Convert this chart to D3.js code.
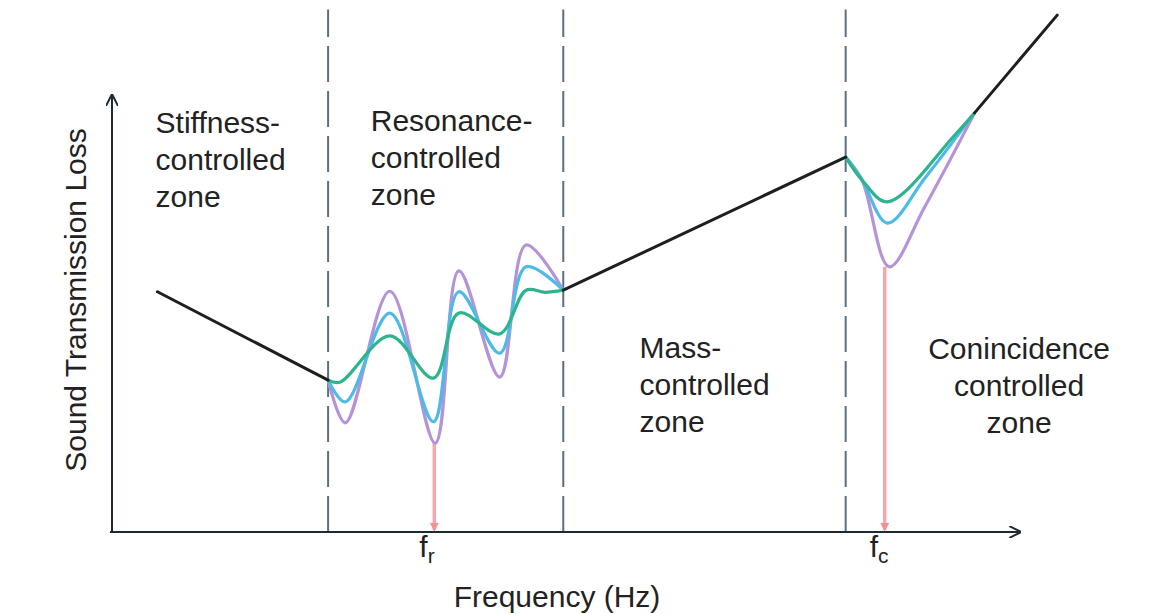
<!DOCTYPE html>
<html>
<head>
<meta charset="utf-8">
<script src="https://cdn.jsdelivr.net/npm/d3@7"></script>
<style>
  body { margin: 0; background: #fff; }
  svg text { font-family: "Liberation Sans", Arial, sans-serif; fill: #222; }
</style>
</head>
<body>
<svg id="chart"></svg>
<script>
// ---- data (frequency / loss in arbitrary units, 0-100) ----
var zoneBounds = [23.8, 49.7, 80.8];
var freqMarks = [{name: "r", f: 35.5, low: 17.1}, {name: "c", f: 85.1, low: 51.0}];

// black straight pieces
var stiffness = [[5, 46.2], [23.8, 29.2]];
var massLine = [[49.7, 46.5], [80.8, 72.1]];
var topLine = [[95, 80.6], [104.1, 99.4]];

// resonance zone wiggles (purple = low damping, green = high damping)
var resPurple = [[23.8, 29.2], [25.7, 21.0], [30.6, 46.3], [35.6, 17.1], [38.2, 50.2], [42.7, 29.8], [45.6, 55.2], [49.7, 46.5]];
var resBlue   = [[23.8, 29.2], [25.7, 25.0], [30.6, 42.1], [35.4, 21.2], [38.2, 46.2], [42.7, 34.4], [45.6, 51.0], [49.7, 46.5]];
var resGreen  = [[23.8, 29.2], [25.1, 28.8], [30.6, 37.7], [35.4, 29.6], [38.2, 42.1], [42.7, 38.1], [45.6, 46.5], [47.7, 46.1], [49.7, 46.5]];

// coincidence dip
var coPurple = [[80.8, 72.1], [82.6, 67.7], [85.6, 51.0], [89.5, 62.5], [95, 80.6]];
var coBlue   = [[80.8, 72.1], [82.6, 67.7], [85.4, 59.4], [89.5, 68.0], [95, 80.6]];
var coGreen  = [[80.8, 72.1], [82.6, 67.7], [85.4, 63.5], [92.8, 76.3], [95, 80.6]];

var zoneLabels = [
  {lines: ["Stiffness-", "controlled", "zone"], f: 4.8, v: 76.7, anchor: "start"},
  {lines: ["Resonance-", "controlled", "zone"], f: 28.5, v: 77.1, anchor: "start"},
  {lines: ["Mass-", "controlled", "zone"], f: 58.1, v: 33.5, anchor: "start"},
  {lines: ["Conincidence", "controlled", "zone"], f: 99.9, v: 33.3, anchor: "middle"}
];

// ---- canvas ----
var width = 1162, height = 614;
var svg = d3.select("#chart").attr("width", width).attr("height", height);

var x = d3.scaleLinear().domain([0, 100]).range([112, 1020]);
var y = d3.scaleLinear().domain([0, 100]).range([532, 12]);

var defs = svg.append("defs");
defs.append("marker").attr("id", "arrow")
  .attr("viewBox", "0 0 10 10").attr("refX", 9).attr("refY", 5)
  .attr("markerWidth", 6).attr("markerHeight", 6).attr("orient", "auto")
  .append("path").attr("d", "M0,0 L10,5 L0,10").attr("fill", "none")
  .attr("stroke", "#1d2a33").attr("stroke-width", 1.6);
defs.append("marker").attr("id", "redtip")
  .attr("viewBox", "0 0 10 10").attr("refX", 8).attr("refY", 5)
  .attr("markerWidth", 2.6).attr("markerHeight", 2.6).attr("orient", "auto")
  .append("path").attr("d", "M0,0 L10,5 L0,10 z").attr("fill", "#f07f86");

// dashed zone boundaries
svg.append("g").selectAll("line").data(zoneBounds).enter().append("line")
  .attr("x1", function(d) { return x(d); }).attr("x2", function(d) { return x(d); })
  .attr("y1", y(0)).attr("y2", y(100.5))
  .attr("stroke", "#587082").attr("stroke-width", 2)
  .attr("stroke-dasharray", "36,9");

// red frequency markers
svg.append("g").selectAll("line").data(freqMarks).enter().append("line")
  .attr("x1", function(d) { return x(d.f); }).attr("x2", function(d) { return x(d.f); })
  .attr("y1", function(d) { return y(d.low); }).attr("y2", y(0) - 2)
  .attr("stroke", "#f39a9f").attr("stroke-width", 3.5).attr("opacity", 0.85)
  .attr("marker-end", "url(#redtip)");

// axes
svg.append("line").attr("x1", x(0)).attr("y1", y(0)).attr("x2", x(0)).attr("y2", y(84))
  .attr("stroke", "#1d2a33").attr("stroke-width", 2).attr("marker-end", "url(#arrow)");
svg.append("line").attr("x1", x(0) - 2).attr("y1", y(0)).attr("x2", x(100)).attr("y2", y(0))
  .attr("stroke", "#1d2a33").attr("stroke-width", 2).attr("marker-end", "url(#arrow)");

// curves
var smooth = d3.line().x(function(d) { return x(d[0]); }).y(function(d) { return y(d[1]); })
  .curve(d3.curveCatmullRom.alpha(0.5));
var straight = d3.line().x(function(d) { return x(d[0]); }).y(function(d) { return y(d[1]); });

var curves = [
  {data: resPurple, color: "#b493d8"}, {data: coPurple, color: "#b493d8"},
  {data: resBlue, color: "#4dbbe6"}, {data: coBlue, color: "#4dbbe6"},
  {data: resGreen, color: "#2db38e"}, {data: coGreen, color: "#2db38e"}
];
svg.append("g").selectAll("path").data(curves).enter().append("path")
  .attr("d", function(d) { return smooth(d.data); })
  .attr("fill", "none").attr("stroke", function(d) { return d.color; })
  .attr("stroke-width", 3.2).attr("stroke-linejoin", "round");

svg.append("g").selectAll("path").data([stiffness, massLine, topLine]).enter().append("path")
  .attr("d", straight).attr("fill", "none")
  .attr("stroke", "#1b1f22").attr("stroke-width", 3).attr("stroke-linecap", "round");

// zone labels
zoneLabels.forEach(function(z) {
  var t = svg.append("text").attr("font-size", "30px").attr("text-anchor", z.anchor)
    .attr("x", x(z.f)).attr("y", y(z.v));
  z.lines.forEach(function(s, i) {
    t.append("tspan").attr("x", x(z.f)).attr("dy", i === 0 ? 0 : 37).text(s);
  });
});

// f_r, f_c labels
freqMarks.forEach(function(m) {
  var t = svg.append("text").attr("font-size", "30px").attr("x", x(m.f) - 15).attr("y", 557);
  t.append("tspan").text("f");
  t.append("tspan").attr("font-size", "21px").attr("dy", 6).text(m.name);
});

// axis titles
svg.append("text").attr("font-size", "30px").attr("text-anchor", "middle")
  .attr("x", 557).attr("y", 607).text("Frequency (Hz)");
svg.append("text").attr("font-size", "30px").attr("text-anchor", "middle")
  .attr("transform", "translate(86,300) rotate(-90)").text("Sound Transmission Loss");
</script>
</body>
</html>
